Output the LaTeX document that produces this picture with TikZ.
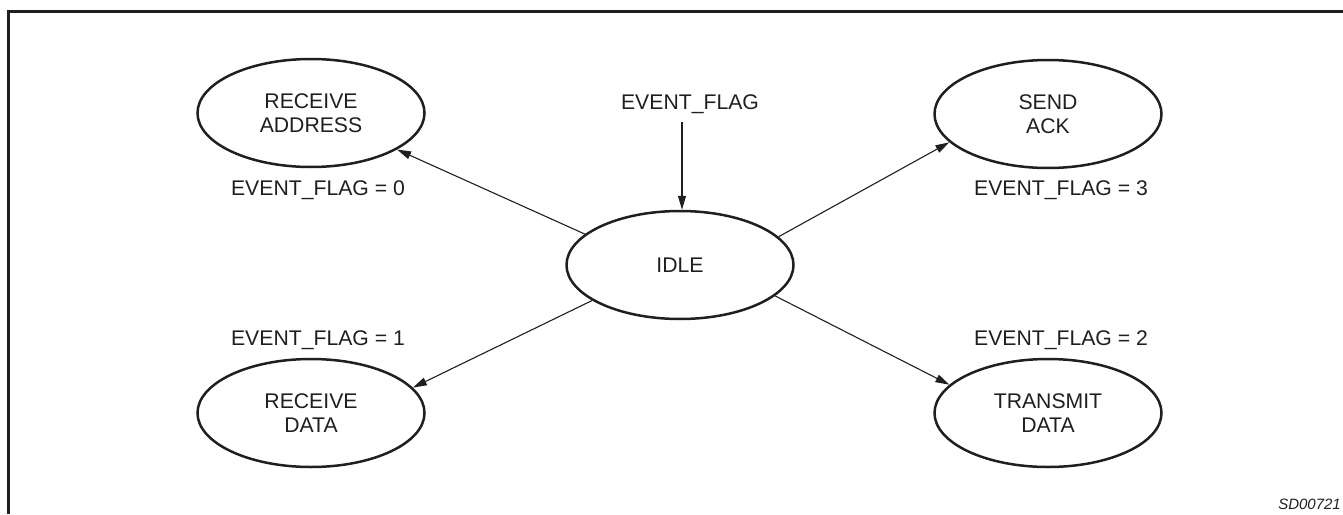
\documentclass[tikz,border=0pt]{standalone}
\usepackage{fontspec}
\setmainfont{Liberation Sans}
\usetikzlibrary{shapes.geometric,arrows.meta}
\begin{document}
\begin{tikzpicture}[x=1pt,y=-1pt,
  ink/.style={draw=black!88},
  state/.style={ellipse, ink, line width=2.5pt, minimum width=227pt, minimum height=108pt,
    inner sep=0pt, align=center, font=\fontsize{21.2}{23.5}\selectfont, text=black!88},
  lbl/.style={font=\fontsize{21.2}{23.5}\selectfont, text=black!88, inner sep=0pt},
  trans/.style={ink, line width=1.1pt, -{Triangle[length=14pt,width=8pt]}}]
\useasboundingbox (0,0) rectangle (1343,514);
% frame
\draw[ink, line width=3pt] (8,514) -- (8,11.5) -- (1343,11.5);
% states
\node[state] (idle) at (680,265) {IDLE};
\node[state] (ra) at (311,113) {RECEIVE\\ADDRESS};
\node[state] (sa) at (1048,114) {SEND\\ACK};
\node[state] (rd) at (311,413) {RECEIVE\\DATA};
\node[state] (td) at (1048,413) {TRANSMIT\\DATA};
% labels
\node[lbl] (ef) at (690,104) {EVENT\_FLAG};
\node[lbl] (l0) at (318,190) {EVENT\_FLAG = 0};
\node[lbl] (l3) at (1061,190) {EVENT\_FLAG = 3};
\node[lbl] (l1) at (318,340) {EVENT\_FLAG = 1};
\node[lbl] (l2) at (1061,340) {EVENT\_FLAG = 2};
\node[font=\fontsize{15}{18}\selectfont\itshape, text=black!88, anchor=east, inner sep=0pt] (id) at (1341,504) {SD00721};
% transitions
\coordinate (efb) at (682,122);
\draw[trans] (efb) -- (idle.north -| efb);
\draw[trans] (idle.162.8) -- (ra.-23.5);
\draw[trans] (idle.16.3) -- (sa.-164);
\draw[trans] (idle.202.4) -- (rd.14);
\draw[trans] (idle.-18.4) -- (td.164.6);
\end{tikzpicture}
\end{document}
